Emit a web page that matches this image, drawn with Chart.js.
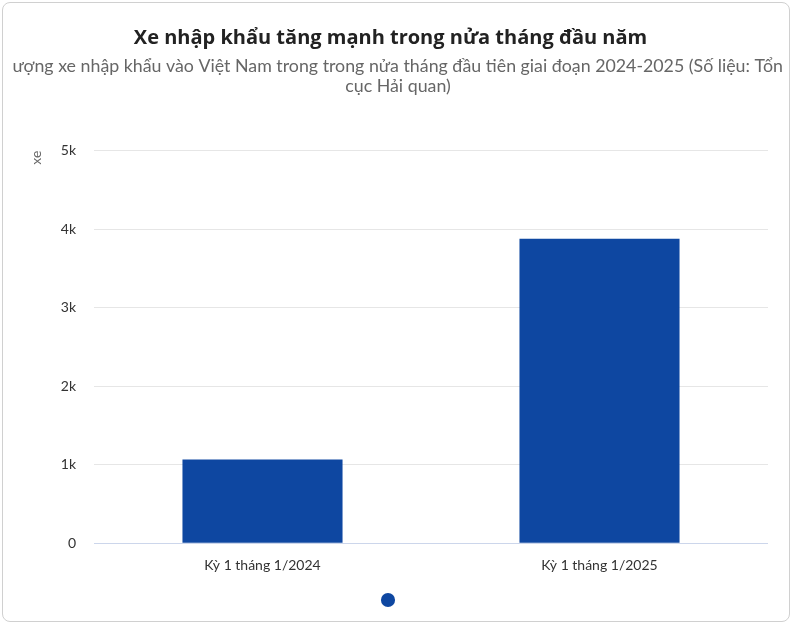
<!DOCTYPE html>
<html>
<head>
<meta charset="utf-8">
<script src="https://cdn.jsdelivr.net/npm/chart.js@4.4.1/dist/chart.umd.min.js"></script>
<style>
  html, body { margin: 0; padding: 0; background: #fff; }
  .card {
    position: absolute; left: 2px; top: 2px; width: 786px; height: 618px;
    border: 1px solid #d0d0d0; border-radius: 8px; background: #fff;
  }
  .box { position: absolute; left: 10px; top: 8px; width: 770px; height: 604px; }
</style>
</head>
<body>
<div class="card"><div class="box"><canvas id="chart"></canvas></div></div>
<script>
// du lieu
const categories = ["Kỳ 1 tháng 1/2024", "Kỳ 1 tháng 1/2025"]
const values = [1065, 3880]
const yTicks = [0, 1000, 2000, 3000, 4000, 5000]
const tickLabels = ["0", "1k", "2k", "3k", "4k", "5k"]

const titleText = "Xe nhập khẩu tăng mạnh trong nửa tháng đầu năm"
const subtitleText = ["Lượng xe nhập khẩu vào Việt Nam trong trong nửa tháng đầu tiên giai đoạn 2024-2025 (Số liệu: Tổng", "cục Hải quan)"]

const FONT = "'Open Sans', Lato, sans-serif"
const SUB_SIZE = 17.8
const SUB_LH = 1.12

// chartjs ep chu subtitle cho vua, o day ve lai khong ep (bi cat 2 ben nhu ban goc)
const subtitleNoShrink = {
    id: "subtitleNoShrink",
    afterDraw(chart) {
        const ctx = chart.ctx
        const top = chart.titleBlock.bottom
        const lh = SUB_SIZE * SUB_LH
        ctx.save()
        ctx.font = SUB_SIZE + "px Lato, sans-serif"
        ctx.fillStyle = "#666"
        ctx.textAlign = "center"
        ctx.textBaseline = "middle"
        subtitleText.forEach((t, i) => {
            ctx.fillText(t, chart.width / 2, top + lh * (i + 0.5))
        })
        ctx.restore()
    }
}

new Chart(document.getElementById("chart"), {
    type: "bar",
    data: {
        labels: categories,
        datasets: [{
            label: "",
            data: values,
            backgroundColor: "#0e47a1",
            borderWidth: 0,
            categoryPercentage: 0.95,
            barPercentage: 0.5
        }]
    },
    options: {
        responsive: true,
        maintainAspectRatio: false,
        animation: false,
        layout: { padding: { left: 0, right: 15, top: 0, bottom: 0 } },
        plugins: {
            title: {
                display: true, text: titleText, color: "#222",
                font: { family: FONT, size: 20, weight: "bold" },
                padding: { top: 15, bottom: 6 }
            },
            subtitle: {
                display: true, text: subtitleText, color: "rgba(0,0,0,0)",
                font: { family: "Lato, sans-serif", size: SUB_SIZE }, lineHeight: SUB_LH,
                padding: { top: 0, bottom: 52 }
            },
            legend: {
                position: "bottom",
                labels: { usePointStyle: true, pointStyle: "circle", boxWidth: 10, boxHeight: 10, font: { size: 10 }, padding: 15 }
            },
            tooltip: { enabled: false }
        },
        scales: {
            x: {
                grid: { display: false },
                border: { display: false },
                ticks: { color: "#333", font: { family: "Lato, sans-serif", size: 14 }, padding: 6 }
            },
            y: {
                min: 0, max: 5000,
                afterBuildTicks: (s) => { s.ticks = yTicks.map(v => ({ value: v })) },
                afterFit: (s) => { s.width = 81 },
                border: { display: false },
                grid: {
                    drawTicks: false,
                    color: (c) => c.tick && c.tick.value === 0 ? "#ccd6eb" : "#e6e6e6"
                },
                ticks: {
                    color: "#333", font: { family: "Lato, sans-serif", size: 14 }, padding: 18,
                    callback: (v) => tickLabels[yTicks.indexOf(v)]
                },
                title: {
                    display: true, text: "xe", align: "end", color: "#666",
                    font: { family: "Lato, sans-serif", size: 14 },
                    padding: { top: 15, bottom: 0 }
                }
            }
        }
    },
    plugins: [subtitleNoShrink]
})
</script>
</body>
</html>
